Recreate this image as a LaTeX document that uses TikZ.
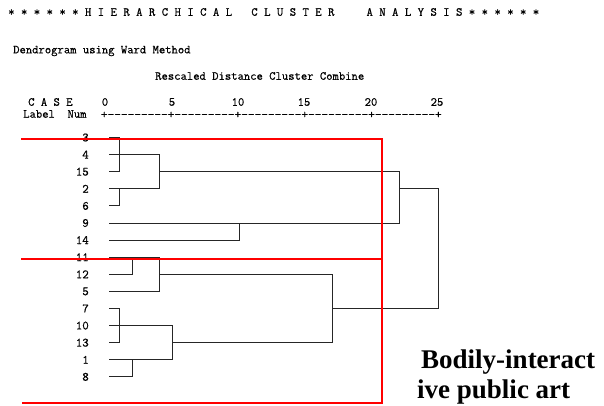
\documentclass[tikz,border=0pt]{standalone}
\usepackage{fontspec}
\usepackage{graphicx}
\setmainfont{Liberation Serif}
\newfontfamily\monof{Latin Modern Mono}[FakeBold=0.6]
\begin{document}
\begin{tikzpicture}[x=1pt,y=-1pt,
  sp/.style={font=\monof\fontsize{12.3}{14}\selectfont, inner sep=0, anchor=west},
  num/.style={font=\monof\fontsize{12.3}{14}\selectfont, inner sep=0, anchor=center},
  lab/.style={font=\monof\fontsize{12.6}{14}\selectfont, inner sep=0, anchor=east},
  dend/.style={draw=black!85, line width=0.9pt},
  redl/.style={draw=red, line width=1.8pt},
  big/.style={font=\fontsize{27}{30}\selectfont\bfseries, inner sep=0, anchor=base west}]
\useasboundingbox (0,0) rectangle (604,405);
% header
\node[sp] (title) at (8,12) {\scalebox{1.01}[1]{*~*~*~*~*~*~H~I~E~R~A~R~C~H~I~C~A~L~~~C~L~U~S~T~E~R~~~~~A~N~A~L~Y~S~I~S~*~*~*~*~*~*}};
\node[sp] (method) at (13,51) {Dendrogram using Ward Method};
\node[sp] (resc) at (155,76) {Rescaled Distance Cluster Combine};
\node[sp] (case) at (28,102) {C~A~S~E};
\node[sp] (labnum) at (23,114) {Label~~Num};
\foreach \v/\x in {0/105,5/172,10/238,15/304,20/371,25/437}
  \node[num] (n\v) at (\x,102) {\v};
\node[sp] (axis) at (100.7,115) {\scalebox{1.055}[1]{+---------+---------+---------+---------+---------+}};
% rows
\foreach \lab [count=\i] in {3,4,15,2,6,9,14,11,12,5,7,10,13,1,8} {
  \node[lab] (r\lab) at (89,{137.5+17.1*(\i-1)}) {\lab};
  \coordinate (c\lab) at (109,{137.5+17.1*(\i-1)});
}
% dendrogram
\draw[dend] (c3) -- ++(10,0) |- (c15);
\draw[dend] (c4) -- ++(50,0) |- (c2);
\draw[dend] (c6) -- ++(10,0) |- (c2);
\draw[dend] (159,171.7) -- (399,171.7) |- (c9);
\draw[dend] (c14) -- ++(130,0) |- (c9);
\draw[dend] (399,188.8) -- (438,188.8) |- (332,308.5);
\draw[dend] (c11) -- ++(50,0) |- (c5);
\draw[dend] (c12) -- ++(23,0) |- (c11);
\draw[dend] (159,274.3) -- (332,274.3) |- (172,342.7);
\draw[dend] (c7) -- ++(10,0) |- (c13);
\draw[dend] (c10) -- ++(63,0) |- (c1);
\draw[dend] (c8) -- ++(23,0) |- (c1);
% red frame
\draw[redl] (21,139) -- (382,139) -- (382,403) -- (22,403);
\draw[redl] (21,259) -- (382,259);
% label
\node[big] (t1) at (421,368) {Bodily-interact};
\node[big] (t2) at (417,398) {ive public art};
\end{tikzpicture}
\end{document}
